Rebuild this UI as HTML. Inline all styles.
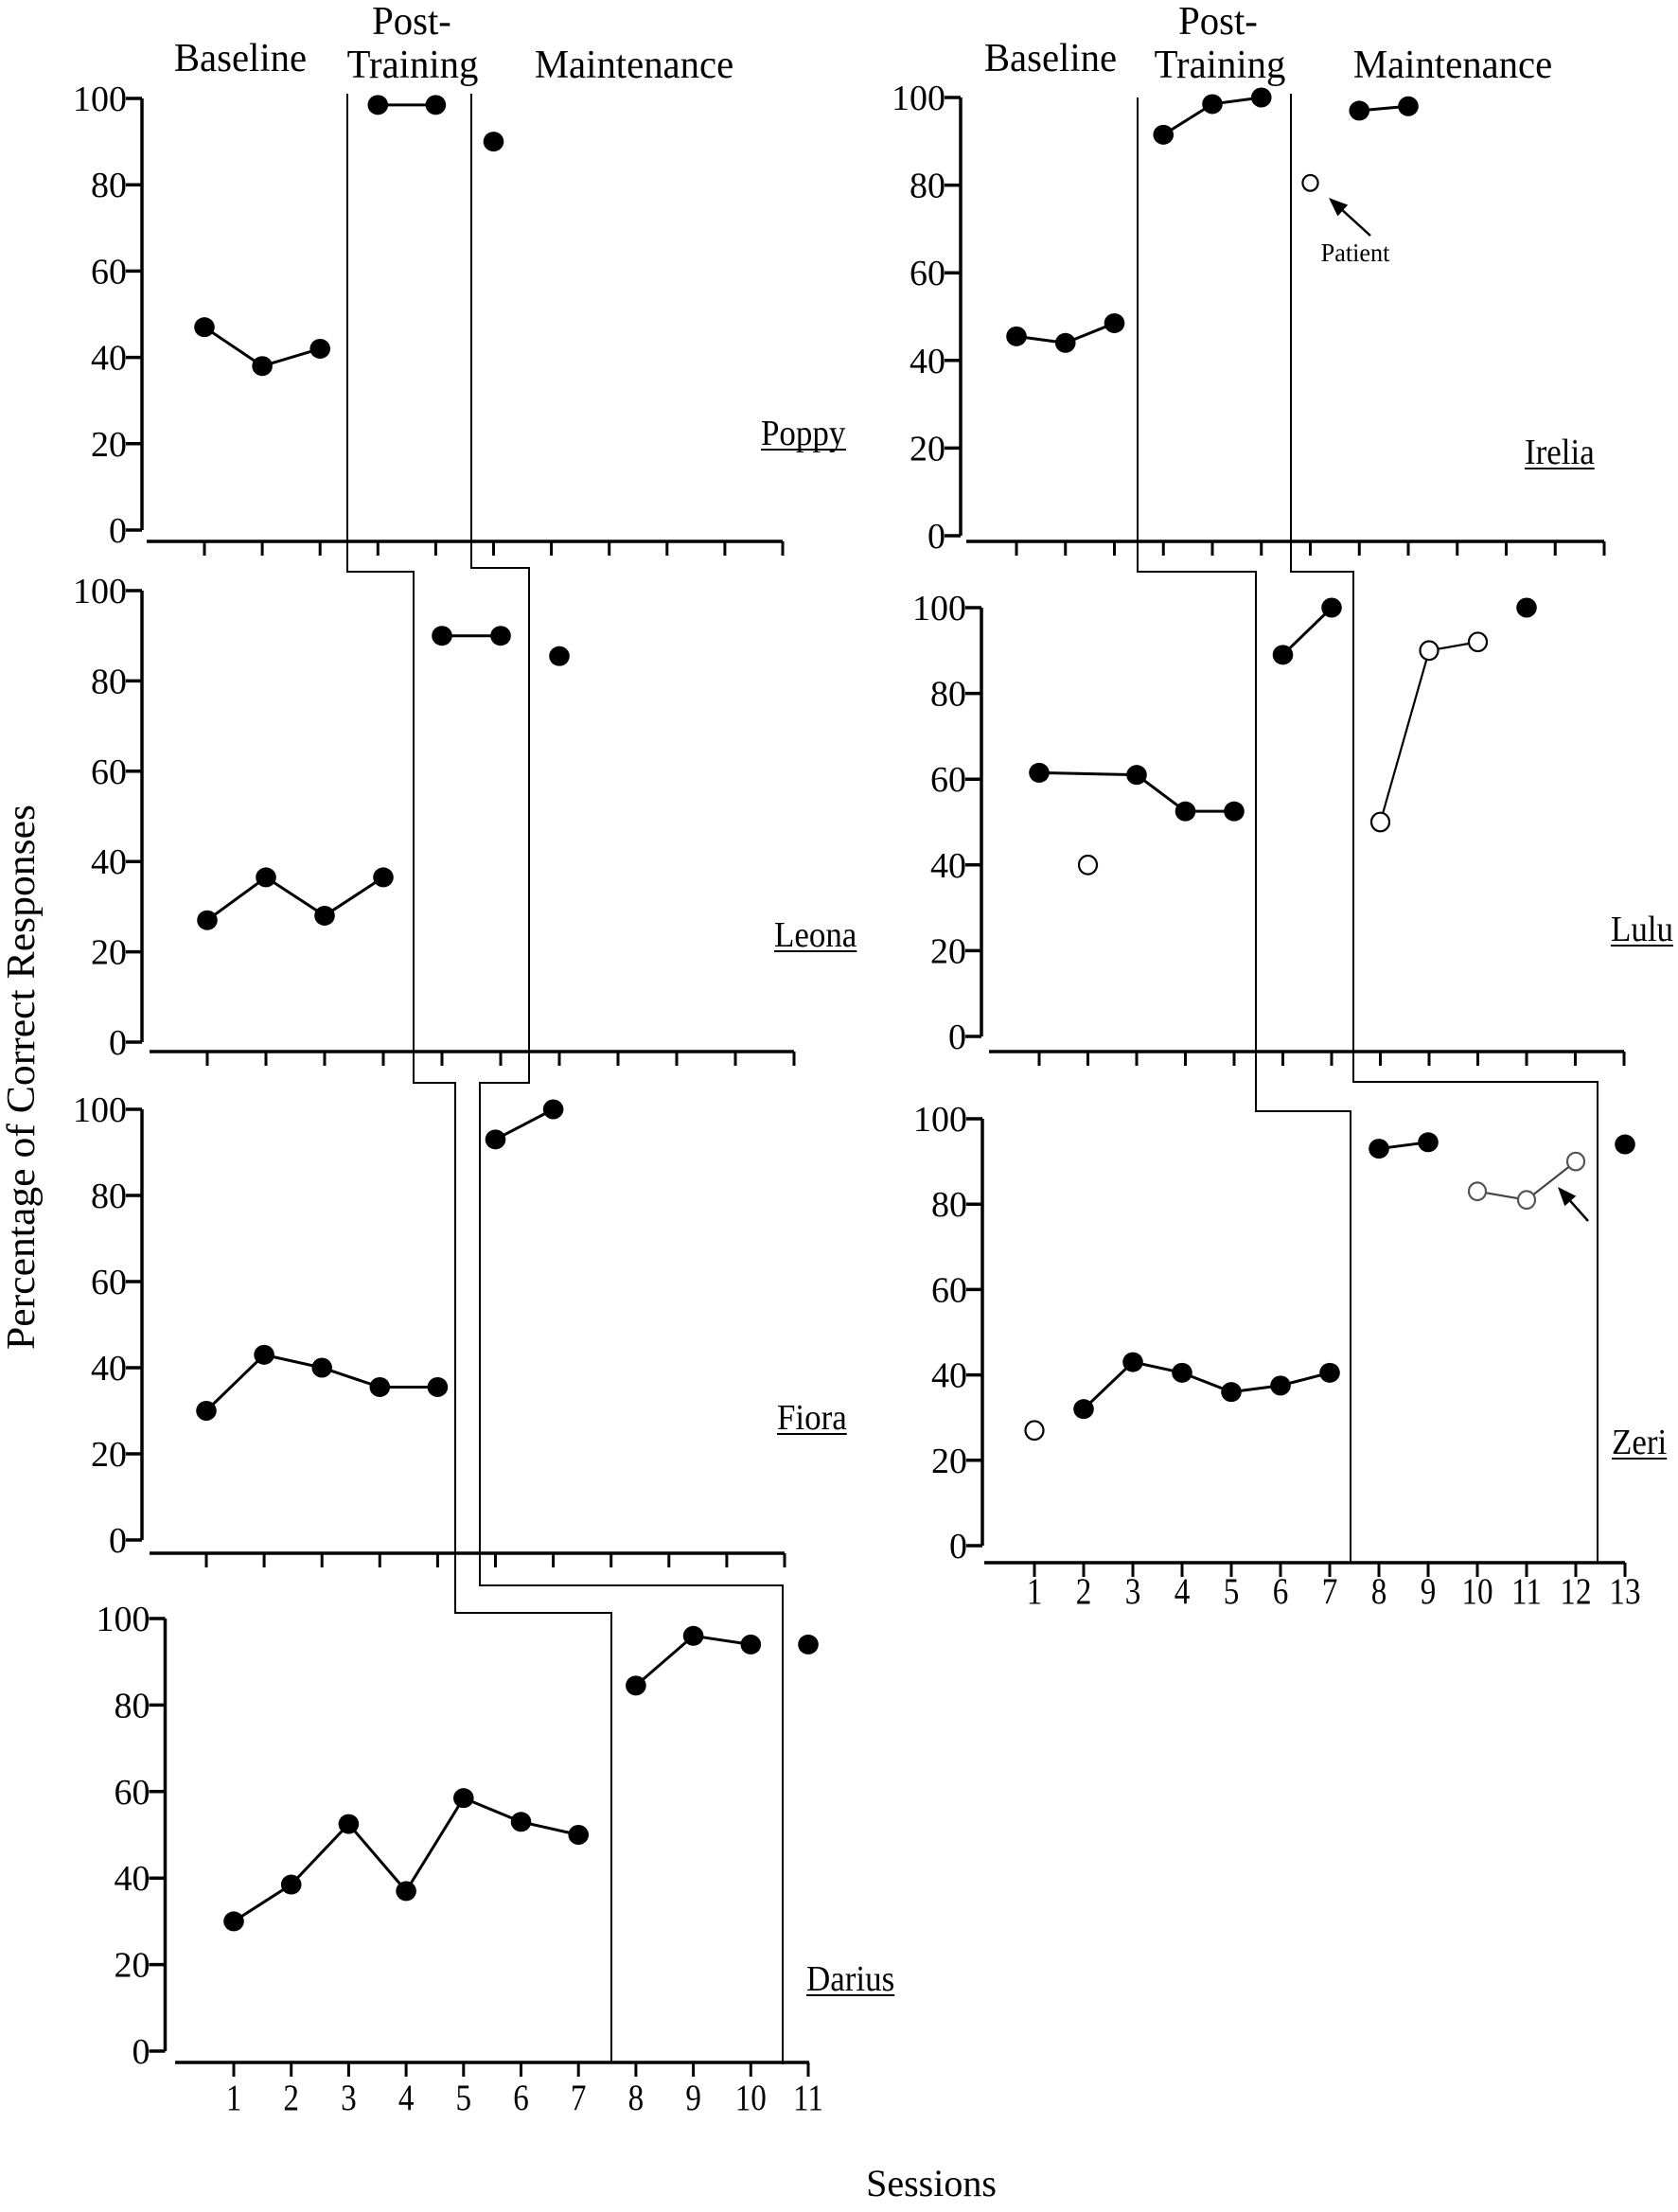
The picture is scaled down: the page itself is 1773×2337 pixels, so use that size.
<!DOCTYPE html>
<html><head><meta charset="utf-8"><style>
html,body{margin:0;padding:0;background:#fff;}
svg{display:block;}
text{font-family:"Liberation Serif","Times New Roman",serif;fill:#000;}
</style></head><body>
<svg id="chart" xmlns="http://www.w3.org/2000/svg" width="1773" height="2337" viewBox="0 0 1773 2337">
<rect width="1773" height="2337" fill="#fff"/>
</svg>
<script>
// ---- data ----
const yTicks=[0,20,40,60,80,100];
const sessionLabels=[1,2,3,4,5,6,7,8,9,10,11,12,13];
// Poppy
const poppyBaseX=[1,2,3], poppyBaseY=[47,38,42];
const poppyPostX=[4,5], poppyPostY=[98.5,98.5];
const poppyMaintX=[6], poppyMaintY=[90];
// Leona
const leonaBaseX=[1,2,3,4], leonaBaseY=[27,36.5,28,36.5];
const leonaPostX=[5,6], leonaPostY=[90,90];
const leonaMaintX=[7], leonaMaintY=[85.5];
// Fiora
const fioraBaseX=[1,2,3,4,5], fioraBaseY=[30,43,40,35.5,35.5];
const fioraPostX=[6,7], fioraPostY=[93,100];
// Darius
const dariusBaseX=[1,2,3,4,5,6,7], dariusBaseY=[30,38.5,52.5,37,58.5,53,50];
const dariusPostX=[8,9,10], dariusPostY=[84.5,96,94];
const dariusMaintX=[11], dariusMaintY=[94];
// Irelia
const ireliaBaseX=[1,2,3], ireliaBaseY=[45.5,44,48.5];
const ireliaPostX=[4,5,6], ireliaPostY=[91.5,98.5,100];
const ireliaPatientX=[7], ireliaPatientY=[80.5];
const ireliaMaintX=[8,9], ireliaMaintY=[97,98];
// Lulu
const luluBaseX=[1,3,4,5], luluBaseY=[61.5,61,52.5,52.5];
const luluBaseOpenX=[2], luluBaseOpenY=[40];
const luluPostX=[6,7], luluPostY=[89,100];
const luluMaintOpenX=[8,9,10], luluMaintOpenY=[50,90,92];
const luluMaintX=[11], luluMaintY=[100];
// Zeri
const zeriBaseOpenX=[1], zeriBaseOpenY=[27];
const zeriBaseX=[2,3,4,5,6,7], zeriBaseY=[32,43,40.5,36,37.5,40.5];
const zeriPostX=[8,9], zeriPostY=[93,94.5];
const zeriMaintOpenX=[10,11,12], zeriMaintOpenY=[83,81,90];
const zeriMaintX=[13], zeriMaintY=[94];

const NS="http://www.w3.org/2000/svg";
const svg=document.getElementById('chart');
function el(tag,attrs,parent){const e=document.createElementNS(NS,tag);for(const k in attrs)e.setAttribute(k,attrs[k]);(parent||svg).appendChild(e);return e;}
function txt(s,x,y,size,anchor,sx,parent){const t=el('text',{x:0,y:0,'font-size':size,'text-anchor':anchor,transform:`translate(${x},${y}) scale(${sx},1)`},parent);t.textContent=s;return t;}

const panels=[
 {key:'poppy',name:'Poppy',ax:150,y100:104,y0:560,xa:572,xf:155,xt:827,t0:216,dx:61.1,n:11,lab:false,nx:804,ny:470,
  series:[[poppyBaseX,poppyBaseY,'f',1],[poppyPostX,poppyPostY,'f',1],[poppyMaintX,poppyMaintY,'f',1]]},
 {key:'leona',name:'Leona',ax:150,y100:624,y0:1101,xa:1111,xf:158,xt:839,t0:219,dx:62,n:11,lab:false,nx:818,ny:1000,
  series:[[leonaBaseX,leonaBaseY,'f',1],[leonaPostX,leonaPostY,'f',1],[leonaMaintX,leonaMaintY,'f',1]]},
 {key:'fiora',name:'Fiora',ax:150,y100:1172,y0:1627,xa:1641,xf:158,xt:829,t0:218,dx:61.1,n:11,lab:false,nx:821,ny:1510,
  series:[[fioraBaseX,fioraBaseY,'f',1],[fioraPostX,fioraPostY,'f',1]]},
 {key:'darius',name:'Darius',ax:174.5,y100:1710,y0:2167,xa:2179,xf:185,xt:855,t0:247,dx:60.7,n:11,lab:true,ly:2229,nx:852,ny:2103,
  series:[[dariusBaseX,dariusBaseY,'f',1],[dariusPostX,dariusPostY,'f',1],[dariusMaintX,dariusMaintY,'f',1]]},
 {key:'irelia',name:'Irelia',ax:1015,y100:103,y0:566,xa:572,xf:1021,xt:1695,t0:1074,dx:51.75,n:13,lab:false,nx:1611,ny:490,
  series:[[ireliaBaseX,ireliaBaseY,'f',1],[ireliaPostX,ireliaPostY,'f',1],[ireliaPatientX,ireliaPatientY,'o',0.85],[ireliaMaintX,ireliaMaintY,'f',1]]},
 {key:'lulu',name:'Lulu',ax:1037,y100:642,y0:1095,xa:1111,xf:1045,xt:1716,t0:1098,dx:51.5,n:13,lab:false,nx:1702,ny:994,
  series:[[luluBaseX,luluBaseY,'f',1],[luluBaseOpenX,luluBaseOpenY,'o',1],[luluPostX,luluPostY,'f',1],[luluMaintOpenX,luluMaintOpenY,'o',1],[luluMaintX,luluMaintY,'f',1]]},
 {key:'zeri',name:'Zeri',ax:1038,y100:1182,y0:1633,xa:1651,xf:1040,xt:1717,t0:1093,dx:52,n:13,lab:true,ly:1694,nx:1703,ny:1536,
  series:[[zeriBaseOpenX,zeriBaseOpenY,'o',1],[zeriBaseX,zeriBaseY,'f',1],[zeriPostX,zeriPostY,'f',1],[zeriMaintOpenX,zeriMaintOpenY,'g',0.95],[zeriMaintX,zeriMaintY,'f',1]]}
];

panels.forEach(p=>{
  const g=el('g',{});
  
  
  const X=s=>p.t0+(s-1)*p.dx;
  const Y=v=>p.y0-v*(p.y0-p.y100)/100;
  const ya=el('line',{x1:p.ax,y1:p.y100,x2:p.ax,y2:p.y0,stroke:'#000','stroke-width':3.5},g);
  
  
  yTicks.forEach(v=>{
    el('line',{x1:p.ax-17,y1:Y(v),x2:p.ax,y2:Y(v),stroke:'#000','stroke-width':3.5},g);
    const t=txt(String(v),p.ax-16,Y(v)+13,38,'end',1.0,g);
    
    
  });
  const xa=el('line',{x1:p.xf,y1:p.xa,x2:p.xt,y2:p.xa,stroke:'#000','stroke-width':3.5},g);
  
  
  for(let i=0;i<p.n;i++){
    const s=sessionLabels[i];
    el('line',{x1:X(s),y1:p.xa,x2:X(s),y2:p.xa+15,stroke:'#000','stroke-width':3},g);
    if(p.lab){
      const t=txt(String(s),X(s),p.ly,39,'middle',0.85,g);
      
      
    }
  }
  p.series.forEach(([xs,ys,kind,sz])=>{
    if(xs.length>1){
      const pts=xs.map((s,i)=>X(s)+','+Y(ys[i])).join(' ');
      const pl=el('polyline',{points:pts,fill:'none',stroke:kind==='g'?'#444':'#000','stroke-width':kind==='f'?3:2.2},g);
      
      
    }
    xs.forEach((s,i)=>{
      let m;
      if(kind==='f') m=el('ellipse',{cx:X(s),cy:Y(ys[i]),rx:10.8*sz,ry:10.5*sz,fill:'#000'},g);
      else m=el('ellipse',{cx:X(s),cy:Y(ys[i]),rx:9.5*sz,ry:9.8*sz,fill:'#fff',stroke:kind==='g'?'#555':'#000','stroke-width':2.2},g);
      
      
    });
  });
  const nt=txt(p.name,p.nx,p.ny,38,'start',0.92,g);
  
  
  const w=nt.getBBox().width*0.92;
  el('line',{x1:p.nx,y1:p.ny+5,x2:p.nx+w,y2:p.ny+5,stroke:'#000','stroke-width':2},g);
});

const phaseLines=[
 '367,99 367,604 437,604 437,1144 481,1144 481,1704 646,1704 646,2179',
 '498,99 498,600 559,600 559,1144 507,1144 507,1675 827,1675 827,2181',
 '1202,103 1202,604 1327,604 1327,1174 1427,1174 1427,1651',
 '1364,99 1364,604 1430,604 1430,1143 1688,1143 1688,1651'
];
phaseLines.forEach((pts,i)=>{
  const pl=el('polyline',{points:pts,fill:'none',stroke:'#000','stroke-width':2});
  
  
});

[[254,75,'Baseline'],[435,36,'Post-'],[436,82,'Training'],[670,82,'Maintenance'],
 [1110,75,'Baseline'],[1287,36,'Post-'],[1289,82,'Training'],[1535,82,'Maintenance']].forEach(([x,y,s])=>{
  const t=txt(s,x,y,42,'middle',0.97);
  
  
});

const pt=txt('Patient',1432,276,27,'middle',0.97);


function arrow(x1,y1,x2,y2,name){
  const g=el('g',{});
  
  
  const a=Math.atan2(y2-y1,x2-x1),L=20,W=8;
  const bx=x2-L*Math.cos(a),by=y2-L*Math.sin(a);
  el('line',{x1:x1,y1:y1,x2:bx,y2:by,stroke:'#000','stroke-width':2.5},g);
  el('polygon',{points:`${x2},${y2} ${bx+W*Math.sin(a)},${by-W*Math.cos(a)} ${bx-W*Math.sin(a)},${by+W*Math.cos(a)}`,fill:'#000'},g);
}
arrow(1448,249,1404,209,'patient-arrow');
arrow(1678,1290,1646,1254,'zeri-patient-arrow');

const yt=el('text',{x:0,y:0,'font-size':42,'text-anchor':'middle',transform:'translate(36,1138) rotate(-90)',textLength:576,lengthAdjust:'spacingAndGlyphs'});
yt.textContent='Percentage of  Correct  Responses';


const xt=txt('Sessions',984,2320,40,'middle',1.0);


</script>
</body></html>
